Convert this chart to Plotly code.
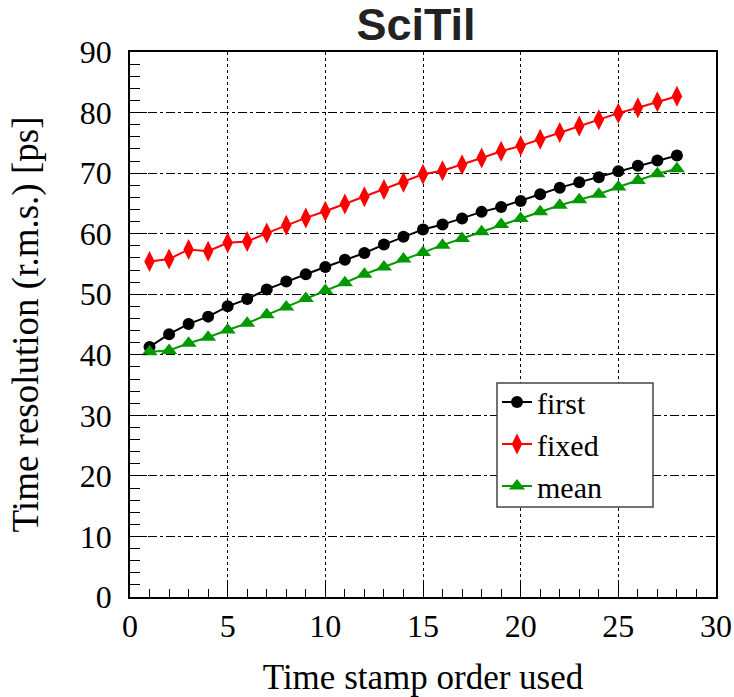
import plotly.graph_objects as go

order = list(range(1, 29))
first = [41.3, 43.4, 45.1, 46.3, 48.0, 49.2, 50.8, 52.1, 53.3, 54.5, 55.7, 56.8, 58.2, 59.5,
         60.7, 61.5, 62.5, 63.6, 64.4, 65.4, 66.5, 67.6, 68.5, 69.3, 70.3, 71.2, 72.1, 72.9]
fixed = [55.4, 55.8, 57.4, 57.1, 58.5, 58.7, 60.1, 61.4, 62.6, 63.7, 64.9, 66.1, 67.3, 68.5,
         69.8, 70.4, 71.4, 72.5, 73.6, 74.5, 75.6, 76.7, 77.8, 78.8, 79.9, 80.8, 81.8, 82.7]
mean = [40.5, 40.7, 41.9, 42.9, 44.1, 45.2, 46.6, 47.9, 49.3, 50.6, 51.9, 53.3, 54.5, 55.8,
        56.9, 58.1, 59.2, 60.3, 61.5, 62.5, 63.6, 64.7, 65.6, 66.5, 67.7, 68.8, 69.9, 70.7]

SERIF = "Liberation Serif, Times New Roman, serif"

fig = go.Figure()
fig.add_trace(go.Scatter(x=order, y=first, name="first", mode="lines+markers",
                         line=dict(color="black", width=2),
                         marker=dict(symbol="circle", size=12, color="black")))
fig.add_trace(go.Scatter(x=order, y=fixed, name="fixed", mode="lines+markers",
                         line=dict(color="#ff0000", width=2),
                         marker=dict(symbol="diamond-tall", size=15, color="#ff0000")))
fig.add_trace(go.Scatter(x=order, y=mean, name="mean", mode="lines+markers",
                         line=dict(color="#009a00", width=2),
                         marker=dict(symbol="triangle-up", size=14, color="#009a00")))

PW, PH = 586, 545  # plot area size in px

fig.update_layout(
    width=734, height=697,
    margin=dict(l=130, r=18, t=52, b=100),
    paper_bgcolor="white", plot_bgcolor="white",
    title=dict(text="<b>SciTil</b>", x=416/734, xanchor="center", y=1-24/697, yanchor="middle",
               font=dict(family="Liberation Sans, Arial, sans-serif", size=45, color="#222222")),
    font=dict(family=SERIF, color="black"),
    legend=dict(x=(497-130)/PW, y=(597-376)/PH, xanchor="left", yanchor="top",
                bgcolor="rgba(0,0,0,0)", borderwidth=0,
                font=dict(family=SERIF, size=30, color="black"),
                itemwidth=30),
    showlegend=True,
    shapes=[dict(type="rect", xref="paper", yref="paper", layer="above",
                 x0=(497-130)/PW, x1=(653-130)/PW, y0=(597-507)/PH, y1=(597-383)/PH,
                 fillcolor="white", line=dict(color="#444444", width=1.5))],
)

fig.update_xaxes(
    range=[0, 30], dtick=5, tick0=0, automargin=False,
    showline=True, linecolor="black", linewidth=1.5, mirror=True,
    ticks="inside", ticklen=17, tickcolor="black", tickwidth=1,
    minor=dict(dtick=1, ticks="inside", ticklen=8, tickcolor="black", showgrid=False),
    showgrid=True, gridcolor="black", griddash="dot", gridwidth=1,
    zeroline=False,
    tickfont=dict(family=SERIF, size=32, color="black"),
    ticklabelstandoff=0,
    title=dict(text="Time stamp order used", font=dict(family=SERIF, size=35, color="black"), standoff=23),
)
fig.update_yaxes(
    range=[0, 90], dtick=10, tick0=0, automargin=False,
    showline=True, linecolor="black", linewidth=1.5, mirror=True,
    ticks="inside", ticklen=17, tickcolor="black", tickwidth=1,
    minor=dict(dtick=2, ticks="inside", ticklen=10, tickcolor="black", showgrid=False),
    showgrid=True, gridcolor="black", griddash="dashdot", gridwidth=1,
    zeroline=False,
    tickfont=dict(family=SERIF, size=32, color="black"),
    ticklabelstandoff=10,
    title=dict(text="Time resolution (r.m.s.) [ps]", font=dict(family=SERIF, size=37, color="black"), standoff=30),
)

fig.write_html("out.html")
